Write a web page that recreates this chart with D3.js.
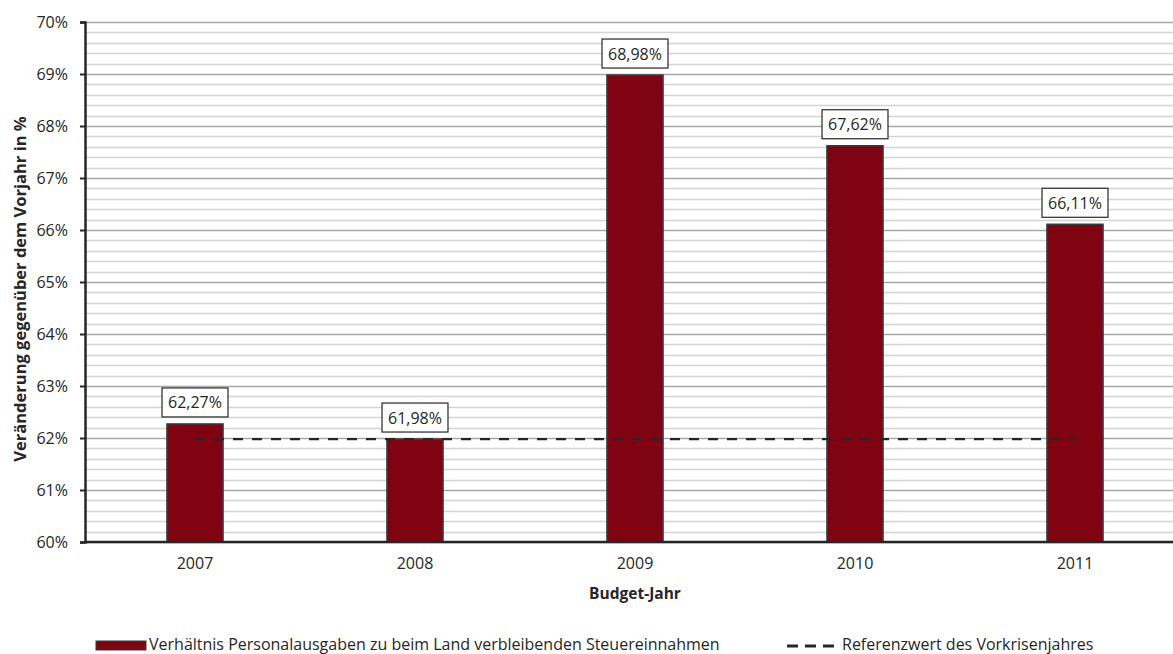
<!DOCTYPE html>
<html><head><meta charset="utf-8">
<script src="https://cdn.jsdelivr.net/npm/d3@7"></script>
<style>body{margin:0;background:#fff}svg{display:block}text{font-family:"Open Sans",sans-serif;fill:#262626}</style>
</head><body><svg id="c" width="1173" height="654"></svg>
<script>
const years = ["2007","2008","2009","2010","2011"];
const values = [62.27, 61.98, 68.98, 67.62, 66.11];
const labels = ["62,27%","61,98%","68,98%","67,62%","66,11%"];
const referenceValue = 61.98;
const yTicks = [60,61,62,63,64,65,66,67,68,69,70];
const yTickLabels = ["60%","61%","62%","63%","64%","65%","66%","67%","68%","69%","70%"];
const seriesName = "Verhältnis Personalausgaben zu beim Land verbleibenden Steuereinnahmen";
const refName = "Referenzwert des Vorkrisenjahres";

(function(){
const svg = d3.select("#c");
const mLeft = 85, mRight = 1185, mTop = 22, mBottom = 542;
const x = d3.scaleBand().domain(years).range([mLeft, mRight]).paddingInner(0.745).paddingOuter(0.3725);
const y = d3.scaleLinear().domain([60,70]).range([mBottom, mTop]);

// gridlines
const minor = d3.range(0, 51).map(i => 60 + i*0.2);
svg.append("g").selectAll("line").data(minor).join("line")
  .attr("x1", mLeft).attr("x2", 1173)
  .attr("y1", d => Math.round(y(d))+0.5).attr("y2", d => Math.round(y(d))+0.5)
  .attr("stroke", (d,i) => i%5===0 ? "#a8a8a8" : "#d4d4d4").attr("stroke-width", 1.6);

// bars
svg.append("g").selectAll("rect").data(years).join("rect")
  .attr("x", d => x(d)).attr("width", x.bandwidth())
  .attr("y", (d,i) => y(values[i])).attr("height", (d,i) => y(60) - y(values[i]))
  .attr("fill", "#7f0310").attr("stroke", "#3a3a3a").attr("stroke-width", 1.5);

// reference line
svg.append("line")
  .attr("x1", x(years[0]) + x.bandwidth()/2).attr("x2", x(years[4]) + x.bandwidth()/2)
  .attr("y1", y(referenceValue)).attr("y2", y(referenceValue))
  .attr("stroke", "#262626").attr("stroke-width", 2.2).attr("stroke-dasharray", "10,9");

// axes
const yAxis = d3.axisLeft(y).tickValues(yTicks).tickFormat((d,i) => yTickLabels[i]).tickSize(5).tickPadding(12);
const ga = svg.append("g").attr("transform", `translate(${mLeft},0)`).call(yAxis);
ga.select(".domain").attr("stroke", "#262626").attr("stroke-width", 2.5);
ga.selectAll(".tick line").attr("stroke", "#262626").attr("stroke-width", 2);
ga.selectAll(".tick text").attr("font-size", 16).attr("font-family", "Open Sans").attr("fill", "#262626");

const xAxis = d3.axisBottom(x).tickSize(0).tickPadding(16);
const gx = svg.append("g").attr("transform", `translate(0,${mBottom})`).call(xAxis);
gx.select(".domain").attr("stroke", "#262626").attr("stroke-width", 2.5).attr("d", `M${mLeft},0H1173`);
gx.selectAll(".tick text").attr("font-size", 16).attr("font-family", "Open Sans").attr("fill", "#262626");

// labels
const lg = svg.append("g").selectAll("g").data(years).join("g");
lg.each(function(d,i){
  const g = d3.select(this);
  const cx = x(d) + x.bandwidth()/2;
  const by = y(values[i]) - 7;
  const t = g.append("text").attr("x", cx).attr("y", by - 8.5).attr("text-anchor","middle")
    .attr("font-size", 16).text(labels[i]);
  const w = t.node().getComputedTextLength() + 12;
  g.insert("rect","text").attr("x", cx - w/2).attr("y", by - 29).attr("width", w).attr("height", 29)
    .attr("fill","#fff").attr("stroke","#262626").attr("stroke-width",1.2);
});

// axis titles
svg.append("text").attr("x", 635).attr("y", 599).attr("text-anchor","middle")
  .attr("font-size", 15.5).attr("font-weight","bold").text("Budget-Jahr");
svg.append("text").attr("transform","translate(26,289) rotate(-90)").attr("text-anchor","middle")
  .attr("font-size", 16.5).attr("font-weight","bold").text("Veränderung gegenüber dem Vorjahr in %");

// legend
svg.append("rect").attr("x", 96).attr("y", 641).attr("width", 50).attr("height", 9)
  .attr("fill","#7f0310").attr("stroke","#3a3a3a").attr("stroke-width",1);
svg.append("text").attr("x", 149).attr("y", 650).attr("font-size", 16).text(seriesName);
svg.append("line").attr("x1", 787).attr("x2", 834).attr("y1", 646).attr("y2", 646)
  .attr("stroke","#262626").attr("stroke-width",3).attr("stroke-dasharray","11,7");
svg.append("text").attr("x", 842).attr("y", 650).attr("font-size", 16).text(refName);
})();
</script></body></html>
